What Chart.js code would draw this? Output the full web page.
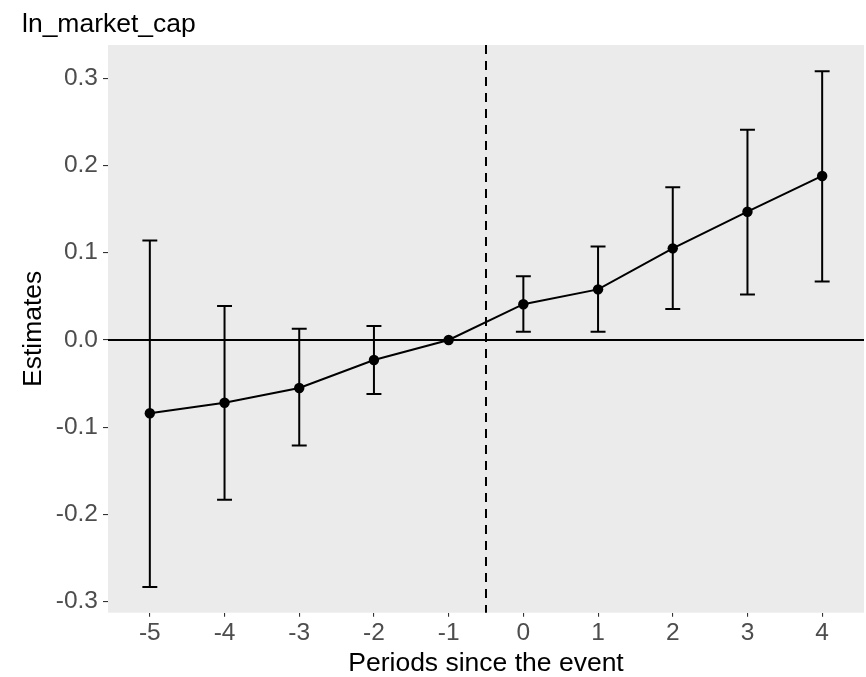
<!DOCTYPE html>
<html>
<head>
<meta charset="utf-8">
<script src="https://cdn.jsdelivr.net/npm/chart.js@4.4.1/dist/chart.umd.min.js"></script>
<style>
  html, body { margin: 0; padding: 0; background: #ffffff; }
  #wrap { width: 866px; height: 677px; }
</style>
</head>
<body>
<div id="wrap"><canvas id="c" width="866" height="677"></canvas></div>
<script>
// ---- data ----
const periods   = [-5, -4, -3, -2, -1, 0, 1, 2, 3, 4];
const estimates = [-0.084, -0.072, -0.055, -0.023, 0, 0.041, 0.058, 0.105, 0.147, 0.188];
const ciLower   = [-0.283, -0.183, -0.121, -0.062, 0, 0.0095, 0.0095, 0.0355, 0.052, 0.067];
const ciUpper   = [0.114, 0.039, 0.013, 0.016, 0, 0.073, 0.107, 0.175, 0.241, 0.308];
const xTicks    = [-5, -4, -3, -2, -1, 0, 1, 2, 3, 4];
const yTicks    = [-0.3, -0.2, -0.1, 0.0, 0.1, 0.2, 0.3];
const zeroLine  = 0;
const eventLine = -0.5;
const capHalf   = 0.1;
const chartTitle = 'ln_market_cap';
const xTitle = 'Periods since the event';
const yTitle = 'Estimates';

const FONT = '"Liberation Sans", Arial, Helvetica, sans-serif';

const panelPlugin = {
  id: 'panel',
  beforeDraw(chart) {
    const {ctx, chartArea: a} = chart;
    ctx.save();
    ctx.fillStyle = '#EBEBEB';
    ctx.fillRect(a.left, a.top, a.right - a.left, a.bottom - a.top);
    ctx.restore();
  },
  beforeDatasetsDraw(chart) {
    const {ctx, chartArea: a, scales: {x, y}} = chart;
    ctx.save();
    ctx.strokeStyle = '#000000';
    ctx.lineCap = 'butt';
    // zero line
    ctx.lineWidth = 2;
    const y0 = y.getPixelForValue(zeroLine);
    ctx.beginPath(); ctx.moveTo(a.left, y0); ctx.lineTo(a.right, y0); ctx.stroke();
    // event line
    const xv = x.getPixelForValue(eventLine);
    ctx.setLineDash([9, 7]);
    ctx.beginPath(); ctx.moveTo(xv, a.top); ctx.lineTo(xv, a.bottom); ctx.stroke();
    ctx.setLineDash([]);
    // error bars
    ctx.lineWidth = 2;
    for (let i = 0; i < periods.length; i++) {
      const px = x.getPixelForValue(periods[i]);
      const pl = y.getPixelForValue(ciLower[i]);
      const pu = y.getPixelForValue(ciUpper[i]);
      const xl = x.getPixelForValue(periods[i] - capHalf);
      const xr = x.getPixelForValue(periods[i] + capHalf);
      ctx.beginPath();
      ctx.moveTo(px, pl); ctx.lineTo(px, pu);
      ctx.moveTo(xl, pl); ctx.lineTo(xr, pl);
      ctx.moveTo(xl, pu); ctx.lineTo(xr, pu);
      ctx.stroke();
    }
    ctx.restore();
  },
  afterDraw(chart) {
    const {ctx} = chart;
    ctx.save();
    ctx.fillStyle = '#000000';
    ctx.font = '26.5px ' + FONT;
    ctx.textAlign = 'left';
    ctx.textBaseline = 'alphabetic';
    ctx.fillText(chartTitle, 22, 31.5);
    ctx.restore();
  }
};

new Chart(document.getElementById('c'), {
  type: 'line',
  data: {
    datasets: [{
      data: periods.map((p, i) => ({x: p, y: estimates[i]})),
      borderColor: '#000000',
      borderWidth: 2,
      backgroundColor: '#000000',
      pointRadius: 5.2,
      pointBackgroundColor: '#000000',
      pointBorderWidth: 0,
      pointHoverRadius: 5.2,
      tension: 0,
      fill: false
    }]
  },
  options: {
    responsive: false,
    devicePixelRatio: 1,
    animation: false,
    events: [],
    layout: { autoPadding: false, padding: { left: 0, right: 2, top: 45, bottom: 0 } },
    plugins: { legend: { display: false }, tooltip: { enabled: false }, title: { display: false } },
    scales: {
      x: {
        type: 'linear',
        min: -5.56, max: 4.56,
        afterBuildTicks: s => { s.ticks = xTicks.map(v => ({value: v})); },
        afterFit: s => { s.height = 64.3; s.paddingLeft = 0; s.paddingRight = 0; },
        border: { display: false },
        grid: { display: true, drawOnChartArea: false, drawTicks: true, tickLength: 4, color: '#333333', lineWidth: 1.1 },
        ticks: {
          color: '#4D4D4D', padding: 2, maxRotation: 0, autoSkip: false,
          font: { family: FONT, size: 24.5 },
          callback: v => String(v)
        },
        title: {
          display: true, text: xTitle, color: '#000000',
          font: { family: FONT, size: 26.5, lineHeight: 1 },
          padding: { top: 0, bottom: 0 }
        }
      },
      y: {
        type: 'linear',
        min: -0.3126, max: 0.3381,
        afterBuildTicks: s => { s.ticks = yTicks.map(v => ({value: v})); },
        afterFit: s => { s.width = 108; s.paddingTop = 0; s.paddingBottom = 0; },
        border: { display: false },
        grid: { display: true, drawOnChartArea: false, drawTicks: true, tickLength: 5, color: '#333333', lineWidth: 1.1 },
        ticks: {
          color: '#4D4D4D', padding: 5, autoSkip: false,
          font: { family: FONT, size: 24.5 },
          callback: v => v.toFixed(1)
        },
        title: {
          display: true, text: yTitle, color: '#000000',
          font: { family: FONT, size: 26.5, lineHeight: 1 },
          padding: { top: 20, bottom: 0 }
        }
      }
    }
  },
  plugins: [panelPlugin]
});
</script>
</body>
</html>
